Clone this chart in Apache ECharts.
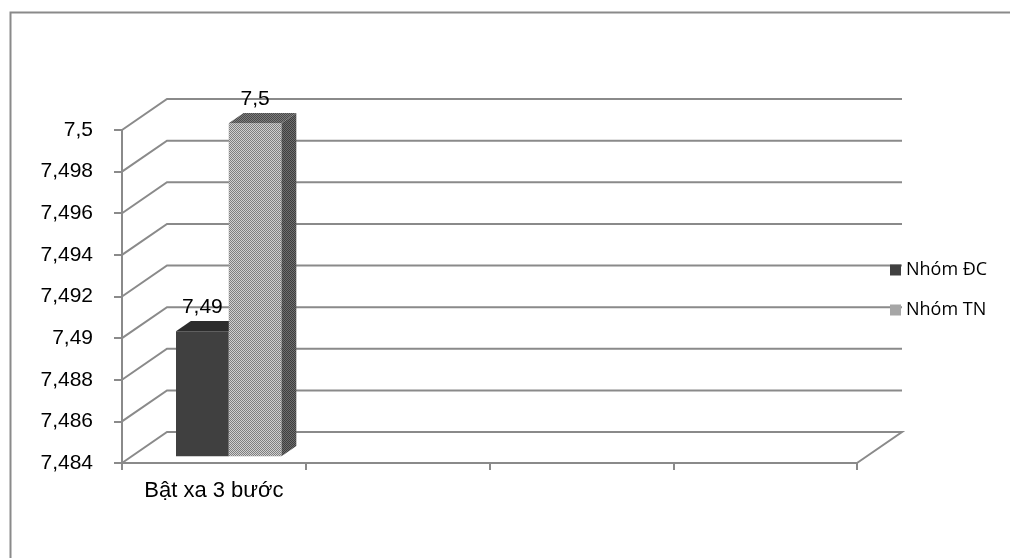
<!DOCTYPE html>
<html>
<head>
<meta charset="utf-8">
<script src="https://cdn.jsdelivr.net/npm/echarts@6/dist/echarts.min.js"></script>
<style>html,body{margin:0;padding:0;background:#fff;}#c{width:1010px;height:558px;}</style>
</head>
<body>
<div id="c"></div>
<script>
// ---- data ----
const categories = ['Bật xa 3 bước', '', '', ''];
const seriesNames = ['Nhóm ĐC', 'Nhóm TN'];
const dcValues = [7.49];
const tnValues = [7.5];
const yTicks = [7.484, 7.486, 7.488, 7.49, 7.492, 7.494, 7.496, 7.498, 7.5];
const yMin = 7.484, yMax = 7.5, yStep = 0.002;

// ---- style constants ----
const DEPTH_X = 45, DEPTH_Y = -31;      // pseudo-3D depth of the plot box
const BAR_POS = 0.22;                    // depth position of bar front face
const BAR_DEPTH = 0.33;                  // bar thickness as fraction of depth
const LINE = '#8a8a8a';
const FONT = "'Liberation Sans', Arial, sans-serif";

function pattern(a, b, size) {
  const c = document.createElement('canvas');
  c.width = c.height = size;
  const g = c.getContext('2d');
  for (let i = 0; i < size; i++) for (let j = 0; j < size; j++) {
    g.fillStyle = ((i + j) % 2 === 0) ? a : b;
    g.fillRect(i, j, 1, 1);
  }
  return { image: c, repeat: 'repeat' };
}
const tnFront = pattern('#7e7e7e', '#cfcfcf', 2);
const tnTop = pattern('#4a4a4a', '#7e7e7e', 2);
const tnSide = pattern('#3e3e3e', '#6e6e6e', 2);

const faces = [
  { front: '#404040', top: '#2c2c2c', side: '#2a2a2a' },
  { front: tnFront, top: tnTop, side: tnSide }
];

function fmt(v) {
  return String(+v.toFixed(3)).replace('.', ',');
}

function gridRender(params, api) {
  const v = api.value(1);
  const band = api.size([1, 0])[0];
  const pL = api.coord([0, v]);
  const pR = api.coord([categories.length - 1, v]);
  const xl = pL[0] - band / 2, xr = pR[0] + band / 2, y = pL[1];
  const pts = [[xl, y], [xl + DEPTH_X, y + DEPTH_Y], [xr + DEPTH_X, y + DEPTH_Y]];
  if (params.dataIndex === 0) pts.push([xr, y]);
  return {
    type: 'polyline',
    shape: { points: pts },
    style: { stroke: LINE, lineWidth: 2, fill: null }
  };
}

function barRender(s) {
  return function (params, api) {
    const idx = api.value(0), val = api.value(1);
    const band = api.size([1, 0])[0];
    const c = api.coord([idx, val]);
    const base = api.coord([idx, yMin]);
    const ddx = DEPTH_X * BAR_POS, ddy = DEPTH_Y * BAR_POS;
    const bdx = DEPTH_X * BAR_DEPTH, bdy = DEPTH_Y * BAR_DEPTH;
    const w = band * 0.287;
    const x0 = c[0] - band / 2 + band * 0.24 + s * w + ddx;
    const top = c[1] + ddy, bottom = base[1] + ddy;
    const f = faces[s];
    return {
      type: 'group',
      children: [
        { type: 'rect', shape: { x: x0, y: top, width: w, height: bottom - top }, style: { fill: f.front } },
        { type: 'polygon', shape: { points: [[x0, top], [x0 + w, top], [x0 + w + bdx, top + bdy], [x0 + bdx, top + bdy]] }, style: { fill: f.top } },
        { type: 'polygon', shape: { points: [[x0 + w, top], [x0 + w + bdx, top + bdy], [x0 + w + bdx, bottom + bdy], [x0 + w, bottom]] }, style: { fill: f.side } },
        { type: 'text', style: { text: fmt(val), x: x0 + w / 2, y: top - 24, align: 'center', verticalAlign: 'middle', fill: '#000', font: '21px ' + FONT } }
      ]
    };
  };
}

const chart = echarts.init(document.getElementById('c'), null, { renderer: 'canvas' });
chart.setOption({
  animation: false,
  backgroundColor: '#fff',
  grid: { left: 122, right: 153, top: 130, bottom: 95 },
  legend: {
    orient: 'vertical', left: 885, top: 256, itemWidth: 11, itemHeight: 11, itemGap: 22,
    icon: 'rect',
    textStyle: { fontFamily: "'Open Sans', 'Noto Sans', sans-serif", fontSize: 18, color: '#000', padding: [0, 0, 0, 0] },
    data: seriesNames
  },
  xAxis: {
    type: 'category', data: categories,
    axisLine: { lineStyle: { color: LINE, width: 2 } },
    axisTick: { show: true, length: 7, lineStyle: { color: LINE, width: 2 } },
    axisLabel: { color: '#000', fontSize: 22, fontFamily: FONT, margin: 17, interval: 0 },
    splitLine: { show: false }
  },
  yAxis: {
    type: 'value', min: yMin, max: yMax, interval: yStep,
    axisLine: { show: true, lineStyle: { color: LINE, width: 2 } },
    axisTick: { show: true, length: 8, lineStyle: { color: LINE, width: 2 } },
    axisLabel: { color: '#000', fontSize: 21, fontFamily: FONT, margin: 29, formatter: fmt },
    splitLine: { show: false }
  },
  graphic: [{
    type: 'rect', left: 8, top: 10, shape: { width: 1100, height: 700 },
    style: { fill: null, stroke: LINE, lineWidth: 2 }, silent: true
  }],
  series: [
    { type: 'custom', name: '_grid', renderItem: gridRender, data: yTicks.map(v => [0, v]), z: 1, silent: true },
    { type: 'custom', name: seriesNames[0], renderItem: barRender(0), data: dcValues.map((v, i) => [i, v]), itemStyle: { color: faces[0].front }, z: 2 },
    { type: 'custom', name: seriesNames[1], renderItem: barRender(1), data: tnValues.map((v, i) => [i, v]), itemStyle: { color: tnFront }, z: 3 }
  ]
});
</script>
</body>
</html>
